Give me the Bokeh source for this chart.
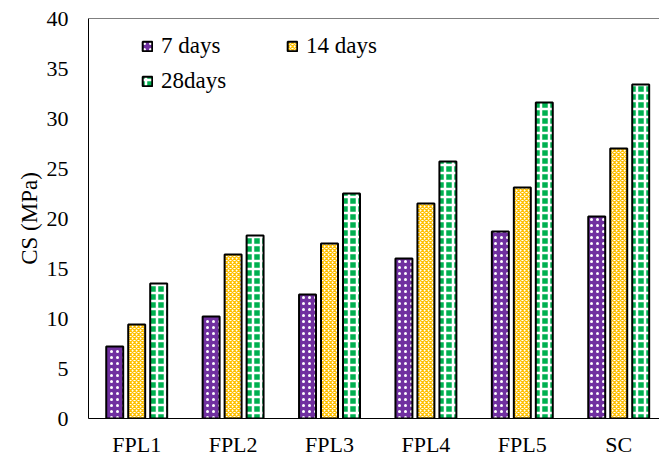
from bokeh.plotting import figure
from bokeh.models import (ColumnDataSource, Range1d, FixedTicker, Legend, LegendItem,
                          Span)
from bokeh.transform import dodge
from bokeh.embed import file_html
from bokeh.resources import INLINE

categories = ["FPL1", "FPL2", "FPL3", "FPL4", "FPL5", "SC"]
days7 = [7.2, 10.2, 12.4, 16.0, 18.7, 20.2]
days14 = [9.4, 16.4, 17.5, 21.5, 23.1, 27.0]
days28 = [13.5, 18.3, 22.5, 25.7, 31.6, 33.4]
series_labels = ["7 days", "14 days", "28days"]
y_ticks = [0, 5, 10, 15, 20, 25, 30, 35, 40]

xc = [i + 0.5 for i in range(len(categories))]
src = ColumnDataSource(dict(xc=xc, d7=days7, d14=days14, d28=days28))

FONT = "Liberation Serif"

p = figure(width=659, height=459, output_backend="svg", toolbar_location=None,
           x_range=Range1d(0, 5.923), y_range=Range1d(0, 40),
           min_border_left=88, min_border_top=18, min_border_right=0,
           min_border_bottom=20)
p.outline_line_color = None
p.xgrid.visible = False
p.ygrid.visible = False
p.background_fill_color = "white"
p.border_fill_color = "white"

bw = 0.176
off = 0.228
r7 = p.vbar(x=dodge("xc", -off, range=p.x_range), top="d7", width=bw, source=src,
            fill_color="#7030A0", line_color="black", line_width=2,
            hatch_pattern="dot", hatch_color="white", hatch_scale=6, hatch_weight=1)
r14 = p.vbar(x=dodge("xc", 0, range=p.x_range), top="d14", width=bw, source=src,
             fill_color="white", line_color="black", line_width=2,
             hatch_pattern="diagonal_cross", hatch_color="#FFC000", hatch_scale=4,
             hatch_weight=1.3)
r28 = p.vbar(x=dodge("xc", off, range=p.x_range), top="d28", width=bw, source=src,
             fill_color="#00B050", line_color="black", line_width=2,
             hatch_pattern="cross", hatch_color="white", hatch_scale=8,
             hatch_weight=2.5)

p.add_layout(Span(location=40, dimension="width", line_color="black", line_width=1))

# axes
p.xaxis.ticker = FixedTicker(ticks=xc)
p.xaxis.major_label_overrides = {x: c for x, c in zip(xc, categories)}
p.yaxis.ticker = FixedTicker(ticks=y_ticks)
for ax in (p.xaxis[0], p.yaxis[0]):
    ax.major_tick_line_color = None
    ax.minor_tick_line_color = None
    ax.major_tick_out = 0
    ax.major_tick_in = 0
    ax.axis_line_color = "black"
    ax.axis_line_width = 1
    ax.major_label_text_font = FONT
    ax.major_label_text_font_size = "22px"
    ax.major_label_text_color = "black"
p.xaxis.major_label_standoff = 13
p.yaxis.major_label_standoff = 20
p.yaxis.axis_label = "CS (MPa)"
p.yaxis.axis_label_text_font = FONT
p.yaxis.axis_label_text_font_style = "normal"
p.yaxis.axis_label_text_font_size = "23px"
p.yaxis.axis_label_text_color = "black"
p.yaxis.axis_label_standoff = 2

legend = Legend(items=[LegendItem(label=series_labels[0], renderers=[r7]),
                       LegendItem(label=series_labels[2], renderers=[r28]),
                       LegendItem(label=series_labels[1], renderers=[r14])],
                location=(53, 324), ncols=2,
                glyph_width=12, glyph_height=12, label_standoff=8,
                label_width=117, label_height=27, spacing=8, padding=12,
                label_text_font=FONT, label_text_font_size="23px",
                label_text_color="black",
                border_line_color=None, background_fill_alpha=0)
p.add_layout(legend)

open("out.html", "w").write(file_html(p, INLINE))
